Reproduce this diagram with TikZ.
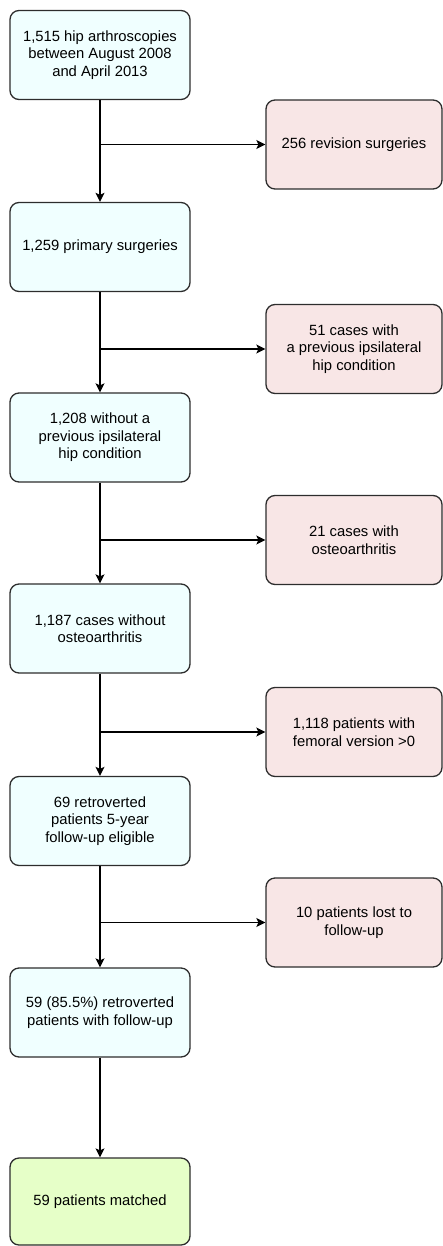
\documentclass[tikz,border=0pt]{standalone}
\usepackage{fontspec}
\setmainfont{Liberation Sans}
\usetikzlibrary{arrows.meta}
\definecolor{leftfill}{RGB}{240,255,255}
\definecolor{rightfill}{RGB}{248,230,230}
\definecolor{endfill}{RGB}{230,255,200}
\definecolor{edge}{RGB}{45,45,45}
\tikzset{
  box/.style={draw=edge, line width=1.3pt, rounded corners=9pt, align=center,
    inner sep=0pt, minimum height=89pt, text=black,
    font=\fontsize{14.8}{17.5}\selectfont},
  lbox/.style={box, fill=leftfill, minimum width=180pt},
  rbox/.style={box, fill=rightfill, minimum width=176pt},
  ebox/.style={box, fill=endfill, minimum width=180pt, minimum height=87pt},
  arr/.style={draw=black, line width=1.3pt, -{Stealth[length=9pt,width=9pt,inset=2pt]}}
}
\begin{document}
\begin{tikzpicture}[x=1pt,y=-1pt]
\useasboundingbox (0,0) rectangle (443,1246);
\node[lbox] (L1) at (100,55) {1,515 hip arthroscopies\\between August 2008\\and April 2013};
\node[lbox] (L2) at (100,247) {1,259 primary surgeries};
\node[lbox] (L3) at (100,437.5) {1,208 without a\\previous ipsilateral\\hip condition};
\node[lbox] (L4) at (100,628.5) {1,187 cases without\\osteoarthritis};
\node[lbox] (L5) at (100,821) {69 retroverted\\patients 5-year\\follow-up eligible};
\node[lbox] (L6) at (100,1012.5) {59 (85.5\%) retroverted\\patients with follow-up};
\node[ebox] (L7) at (100,1201.5) {59 patients matched};

\node[rbox] (R1) at (354,144.5) {256 revision surgeries};
\node[rbox] (R2) at (354,349) {51 cases with\\a previous ipsilateral\\hip condition};
\node[rbox] (R3) at (354,540) {21 cases with\\osteoarthritis};
\node[rbox] (R4) at (354,732) {1,118 patients with\\femoral version >0};
\node[rbox] (R5) at (354,922.5) {10 patients lost to\\follow-up};

\foreach \a/\b in {L1/L2,L2/L3,L3/L4,L4/L5,L5/L6,L6/L7}
  \draw[arr] (\a.south) -- (\b.north);
\foreach \a/\r in {L1/R1,L2/R2,L3/R3,L4/R4,L5/R5}
  \draw[arr] (\a.south |- \r.west) -- (\r.west);
\end{tikzpicture}
\end{document}
